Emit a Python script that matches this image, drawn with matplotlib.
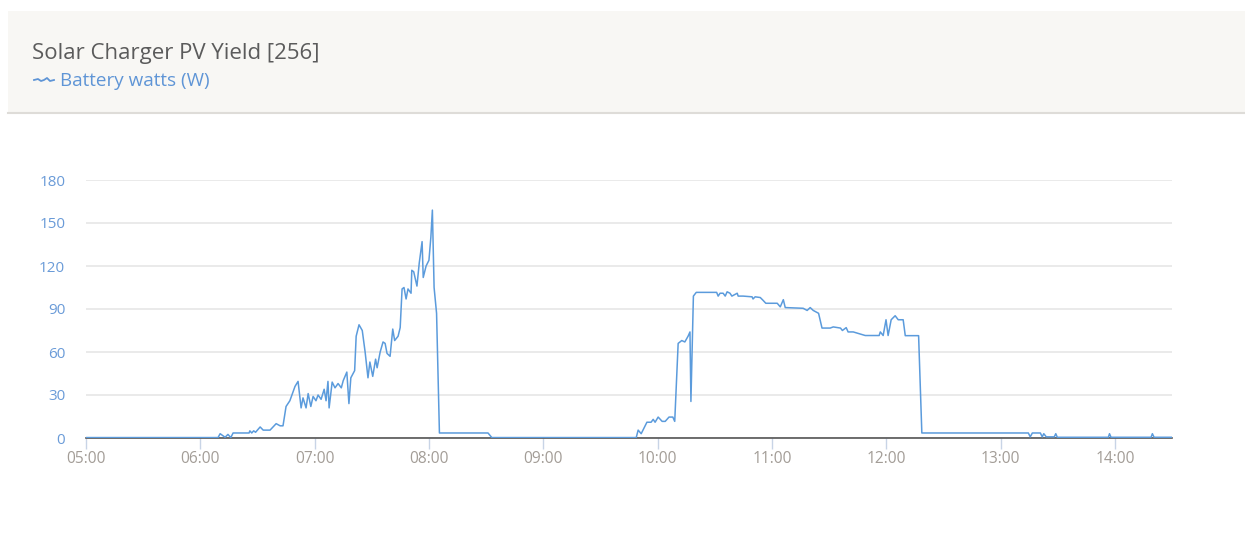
import matplotlib
matplotlib.use("Agg")
import matplotlib.pyplot as plt
from matplotlib.patches import Rectangle
from matplotlib.lines import Line2D

# ---- data (minutes after 05:00, battery watts) ----
minutes = [0, 69.3, 70.4, 73, 74.5, 76, 77.2, 85.6, 86, 87, 88, 89, 91.4, 93, 96.6, 99.8,
           101.9, 103.4, 105, 107, 109.7, 111.3, 112.9, 113.9, 115.5, 116.6, 118, 119.2,
           120.7, 121.8, 123.4, 125, 126, 127, 127.6, 129.2, 130.7, 132.3, 134, 135, 136.9,
           138, 139, 141, 141.8, 143.3, 145, 146.5, 148, 149, 150.5, 152, 152.8, 154.4,
           155.9, 157, 158, 159.6, 161, 162, 163.8, 164.9, 165.9, 166.9, 168, 169, 170.6,
           171, 172, 173.7, 174.9, 176.4, 177, 178.5, 180, 181, 181.8, 182.7, 184, 185.5,
           211, 213, 288.8, 289.8, 291.4, 294.4, 296.6, 297.7, 298.7, 300.3, 302.4, 304,
           306, 308, 309, 310.8, 312.7, 314.3, 316, 317, 317.5, 318.8, 320.3, 331, 331.8,
           332.8, 334.4, 335.5, 336.5, 338, 339, 341.8, 342.3, 344.9, 349.6, 350.1, 351.2,
           353.9, 355.4, 356.8, 362.8, 364.4, 366, 367, 376.4, 378.5, 380.1, 381.7, 384.5,
           386.3, 390.6, 392.2, 396, 397, 399, 400, 402.7, 409, 416.3, 416.9, 418.4, 419.9,
           421, 422.6, 424.7, 426.3, 428.9, 430, 437, 438.7, 494.6, 495.6, 496.7, 500.9,
           501.9, 502.7, 504, 508.2, 509, 509.8, 536.6, 537.2, 538, 559, 559.7, 560.6, 570]
watts = [0.3, 0.3, 3, 0.5, 2.5, 0.3, 3.5, 3.5, 5, 3.5, 5, 4, 7.7, 5.5, 5.5, 10,
         8.5, 8.5, 22, 26, 36, 39.5, 21, 28, 21, 31, 22, 29,
         26, 30, 27, 34, 26, 39.5, 21, 39, 35, 38, 35, 40, 46,
         24, 42, 47, 71, 79, 75, 60, 42, 53, 43, 55, 49, 60,
         67, 66, 59, 57, 76, 68, 71, 77, 104, 105, 97, 104, 101,
         117, 116, 106, 122, 137, 112, 120, 124, 140, 159, 105, 87, 3.5,
         3.5, 0.3, 0.3, 5.5, 3, 11, 11, 13, 11, 14.6, 11.6, 11.6,
         14.6, 14.6, 11.6, 66, 68, 67, 71, 74, 25.5, 99, 101.6, 101.6, 99,
         101, 101, 99, 102, 101, 99, 101, 99, 99, 98.5, 97, 98.5,
         98, 96, 94, 94, 91.5, 96.5, 91, 90.5, 89, 91, 89, 87,
         76.7, 76.7, 77.5, 76.7, 75, 77, 74, 74, 71.5, 71.5, 74, 71.5, 82.5,
         71.5, 82.5, 85.3, 82.5, 82.5, 71.4, 71.4, 3.5, 3.5, 0.8, 3.5, 3.5,
         0.8, 3, 0.8, 0.8, 3, 0.5, 0.5, 3, 0.5, 0.5, 3, 0.5, 0.5]

tick_minutes = [0, 60, 120, 180, 240, 300, 360, 420, 480, 540]
tick_labels = ["05:00", "06:00", "07:00", "08:00", "09:00", "10:00",
               "11:00", "12:00", "13:00", "14:00"]
y_ticks = [0, 30, 60, 90, 120, 150, 180]

title = "Solar Charger PV Yield [256]"
series_name = "Battery watts (W)"

# ---- figure ----
W, H = 1245, 533
fig = plt.figure(figsize=(W / 100, H / 100), dpi=100)
fig.patch.set_facecolor("white")
plt.rcParams["font.family"] = ["Open Sans", "DejaVu Sans"]

def fx(px):
    return px / W

def fy(py):
    return 1 - py / H

# header panel
fig.patches.append(Rectangle((fx(8), fy(112)), fx(W - 8), (112 - 11) / H,
                             transform=fig.transFigure, facecolor="#f8f7f4",
                             edgecolor="none", zorder=0))
fig.lines.append(Line2D([fx(8), 1], [fy(112.5), fy(112.5)], transform=fig.transFigure,
                        color="#dedcd8", linewidth=1.5))

fig.text(fx(32), fy(53), title, fontsize=16, color="#5b5b5b",
         va="center", ha="left")
fig.text(fx(60), fy(81), series_name, fontsize=13.6, color="#5f95d6",
         va="center", ha="left")
# legend icon
fig.lines.append(Line2D([fx(34), fx(38), fx(41), fx(44), fx(47), fx(50), fx(54)],
                        [fy(80), fy(79), fy(81), fy(80), fy(78), fy(81), fy(80)],
                        transform=fig.transFigure, color="#5f95d6", linewidth=1.3))

# chart axes
ax = fig.add_axes([fx(86), fy(438), fx(1172 - 86), (438 - 180) / H])
ax.plot(minutes, watts, color="#5b9bdc", linewidth=1.1, zorder=3)

ax.set_xlim(0, 570)
ax.set_ylim(0, 180)
ax.set_yticks(y_ticks)
ax.set_yticklabels([str(v) for v in y_ticks])
ax.set_xticks(tick_minutes)
ax.set_xticklabels(tick_labels)

for s in ["top", "right", "left"]:
    ax.spines[s].set_visible(False)
ax.spines["bottom"].set_color("#555555")
ax.spines["bottom"].set_linewidth(1.2)
ax.spines["bottom"].set_zorder(2)

ax.grid(axis="y", color="#e6e6e6", linewidth=1.2)
ax.set_axisbelow(True)

ax.tick_params(axis="y", length=0, pad=15, labelsize=11, labelcolor="#6a9bd8")
ax.tick_params(axis="x", length=8, width=1, color="#c8d4e6", pad=1.5,
               labelsize=11.2, labelcolor="#a39d97")

fig.savefig("out.png", dpi=100)
